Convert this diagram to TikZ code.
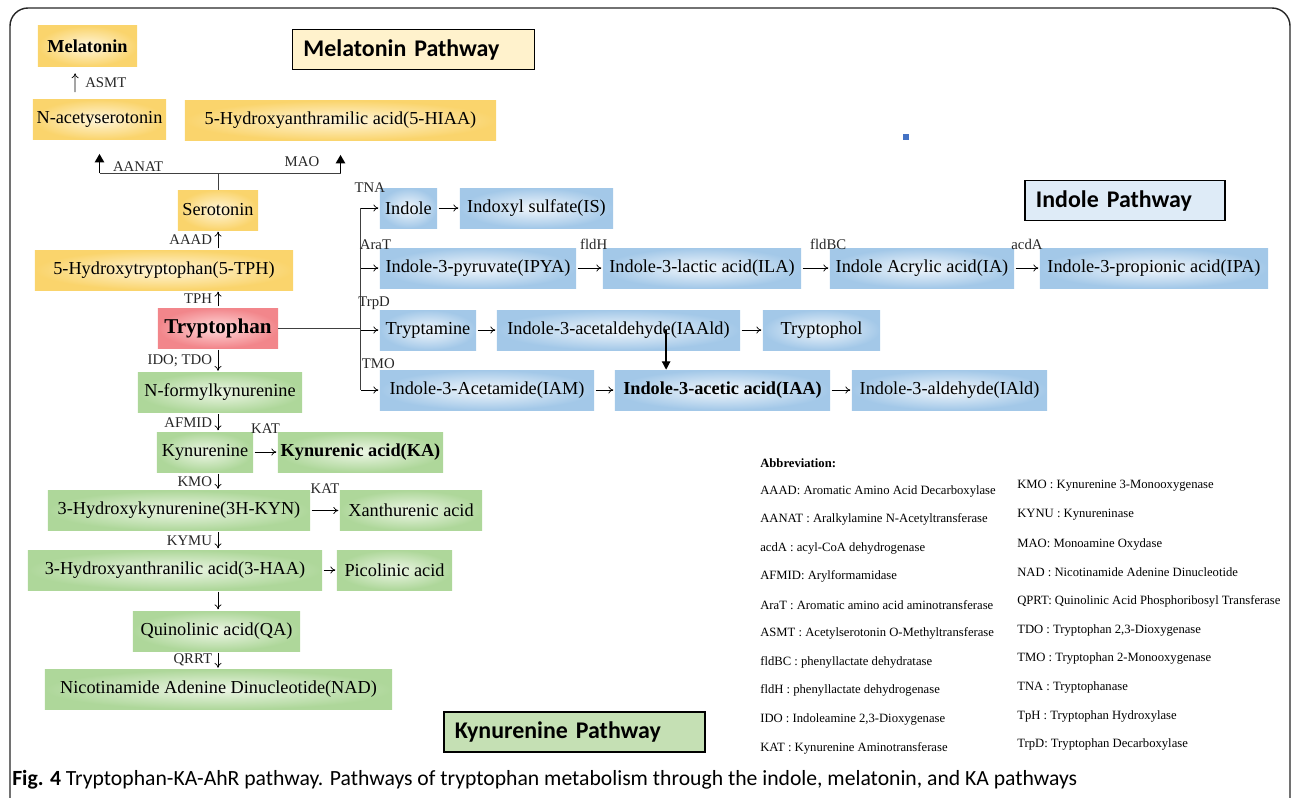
\documentclass[tikz,border=0pt]{standalone}
\usepackage{fontspec}
\setmainfont{Liberation Serif}
\newfontfamily\capfont{Carlito}
\usetikzlibrary{arrows.meta}

\definecolor{yelout}{HTML}{FAD46C}
\definecolor{yelin}{HTML}{FFF6DC}
\definecolor{bluout}{HTML}{A3C8E8}
\definecolor{bluin}{HTML}{F2F7FC}
\definecolor{grnout}{HTML}{AED79A}
\definecolor{grnin}{HTML}{EDF6E6}
\definecolor{redout}{HTML}{F2868B}
\definecolor{redin}{HTML}{FFDADB}
\definecolor{melbg}{HTML}{FFF2CC}
\definecolor{indbg}{HTML}{DEEBF7}
\definecolor{kynbg}{HTML}{C5E0B4}
\definecolor{dotblue}{HTML}{4472C4}

\tikzset{
  cpd/.style={inner sep=0pt, minimum height=1cm, font=\fontsize{13}{15}\selectfont},
  yel/.style={cpd, shade, inner color=yelin, outer color=yelout},
  blu/.style={cpd, shade, inner color=bluin, outer color=bluout},
  grn/.style={cpd, shade, inner color=grnin, outer color=grnout},
  redbox/.style={cpd, shade, inner color=redin, outer color=redout, font=\bfseries\fontsize{15}{17}\selectfont},
  enz/.style={inner sep=1pt, font=\fontsize{10.5}{12}\selectfont, text=black!85},
  rx/.style={-{To[length=3.5pt,width=5pt]}, line width=0.5pt, shorten <=1pt, shorten >=1pt},
  bigrx/.style={-{Triangle[length=6pt,width=6.5pt]}, line width=1.3pt},
  pwtitle/.style={draw, line width=0.9pt, inner xsep=0.275cm, align=left, minimum height=1cm,
    font=\capfont\bfseries\fontsize{17}{19}\selectfont},
  abbr/.style={anchor=west, inner sep=0pt, font=\fontsize{9}{10}\selectfont},
}

\begin{document}
\begin{tikzpicture}[x=0.025cm, y=-0.025cm]  % ------ Tryptophan-KA-AhR ------------------
    \useasboundingbox (0,0) rectangle (1292,797);
    \clip (0,0) rectangle (1292,797);
    \draw [line width=1pt, black!85, rounded corners=0.45cm] (10,8) rectangle (1290,840);

    \node [pwtitle, fill=melbg, text width=5.5cm] (melpw) at (413.5,49.5) {Melatonin Pathway};
    \node [pwtitle, fill=indbg, text width=4.45cm] (indpw) at (1125,200.5) {Indole Pathway};
    \node [pwtitle, fill=kynbg, text width=5.975cm] (kynpw) at (574.5,732) {Kynurenine Pathway};
    \fill [dotblue] (903,134) rectangle (909,140);

    \node [yel, minimum width=2.475cm] (mel) at (87.5,46) {\textbf{Melatonin}};
    \node [yel, minimum width=3.325cm] (nacet) at (99.5,119.5) {N-acetyserotonin};
    \node [yel, minimum width=7.775cm] (hiaa) at (340.5,120.5) {5-Hydroxyanthramilic acid(5-HIAA)};
    \node [yel, minimum width=2cm] (sero) at (218,210) {Serotonin};
    \node [yel, minimum width=6.45cm] (htp) at (164,270) {5-Hydroxytryptophan(5-TPH)};
    \node [redbox, minimum width=3cm] (trp) at (218,328) {Tryptophan};

    \node [grn, minimum width=4.1cm] (nfk) at (220,392.5) {N-formylkynurenine};
    \node [grn, minimum width=2.4cm] (kyn) at (205,452) {Kynurenine};
    \node [grn, minimum width=4.125cm] (ka) at (360.5,452) {\textbf{Kynurenic acid(KA)}};
    \node [grn, minimum width=6.55cm] (hkyn) at (179,510.5) {3-Hydroxykynurenine(3H-KYN)};
    \node [grn, minimum width=3.55cm] (xan) at (411,510.5) {Xanthurenic acid};
    \node [grn, minimum width=7.35cm] (haa) at (175,570) {3-Hydroxyanthranilic acid(3-HAA)};
    \node [grn, minimum width=2.875cm] (pic) at (394.5,570) {Picolinic acid};
    \node [grn, minimum width=4.175cm] (qa) at (216.5,631) {Quinolinic acid(QA)};
    \node [grn, minimum width=8.675cm] (nad) at (218.5,689.5) {Nicotinamide Adenine Dinucleotide(NAD)};

    \node [blu, minimum width=1.425cm] (ind) at (408.5,208) {Indole};
    \node [blu, minimum width=3.825cm] (is) at (536.5,208) {Indoxyl sulfate(IS)};
    \node [blu, minimum width=4.9cm] (ipya) at (478,268) {Indole-3-pyruvate(IPYA)};
    \node [blu, minimum width=4.95cm] (ila) at (702,268) {Indole-3-lactic acid(ILA)};
    \node [blu, minimum width=4.6cm] (ia) at (922,268) {Indole Acrylic acid(IA)};
    \node [blu, minimum width=5.7cm] (ipa) at (1154,268) {Indole-3-propionic acid(IPA)};
    \node [blu, minimum width=2.4cm] (tam) at (428,330) {Tryptamine};
    \node [blu, minimum width=6.075cm] (iaald) at (618.5,330) {Indole-3-acetaldehyde(IAAld)};
    \node [blu, minimum width=2.925cm] (tol) at (821.5,330) {Tryptophol};
    \node [blu, minimum width=5.35cm] (iam) at (487,390) {Indole-3-Acetamide(IAM)};
    \node [blu, minimum width=5.375cm] (iaa) at (722.5,390) {\textbf{Indole-3-acetic acid(IAA)}};
    \node [blu, minimum width=4.875cm] (iald) at (949.5,390) {Indole-3-aldehyde(IAld)};

    % melatonin branch
    \draw [rx, shorten <=5pt, shorten >=5pt] ([xshift=-0.61cm]nacet.north) -- node [enz, right=6pt] {ASMT} ([xshift=-0.31cm]mel.south);
    \coordinate (fork) at (218,173);
    \draw [line width=0.6pt, black!75] (sero) -- (fork);
    \draw [line width=0.6pt, black!75] (nacet.south |- fork) -- node [enz, pos=0.16, above=0pt] {AANAT} node [enz, pos=0.84, above=3pt] {MAO} (hiaa.south |- fork);
    \draw [bigrx, shorten >=10pt] (nacet.south |- fork) -- (nacet.south);
    \draw [bigrx, shorten >=10pt] (hiaa.south |- fork) -- (hiaa.south);
    \draw [rx] (htp.north -| sero) -- node [enz, left=3pt] {AAAD} (sero);
    \draw [rx] (trp) -- node [enz, left=3pt] {TPH} (trp |- htp.south);

    % kynurenine branch
    \draw [rx] (trp) -- node [enz, left=3pt] {IDO; TDO} (trp |- nfk.north);
    \draw [rx] (nfk.south -| trp) -- node [enz, left=3pt] {AFMID} (kyn.north -| trp);
    \draw [rx] (kyn) -- node [enz, above=12pt] {KAT} (ka);
    \draw [rx] (kyn.south -| trp) -- node [enz, left=3pt] {KMO} (hkyn.north -| trp);
    \draw [rx] (hkyn) -- node [enz, above=11pt] {KAT} (xan);
    \draw [rx] (hkyn.south -| trp) -- node [enz, left=3pt] {KYMU} (haa.north -| trp);
    \draw [rx] (haa) -- (pic);
    \draw [rx] (haa.south -| trp) -- (qa.north -| trp);
    \draw [rx] (qa.south -| trp) -- node [enz, left=3pt] {QRRT} (nad.north -| trp);

    % indole branch
    \coordinate (hub) at (360,328);
    \draw [line width=0.6pt, black!75] (trp) -- (hub);
    \draw [line width=0.6pt, black!75] (ind.west -| hub) -- (iam.west -| hub);
    \draw [rx] (ind.west -| hub) -- node [enz, above=10pt] {TNA} (ind);
    \draw [rx] (ind) -- (is);
    \draw [rx] (ipya.west -| hub) -- node [enz, above=12pt, xshift=4pt] {AraT} (ipya);
    \draw [rx] (ipya) -- node [enz, above=12pt, xshift=3pt] {fldH} (ila);
    \draw [rx] (ila) -- node [enz, above=12pt, xshift=9pt] {fldBC} (ia);
    \draw [rx] (ia) -- node [enz, above=12pt] {acdA} (ipa);
    \draw [rx] (tam.west -| hub) -- node [enz, above=13pt, xshift=3pt] {TrpD} (tam);
    \draw [rx] (tam) -- (iaald);
    \draw [rx] (iaald) -- (tol);
    \draw [rx] (iam.west -| hub) -- node [enz, above=14pt, xshift=6pt] {TMO} (iam);
    \draw [rx] (iam) -- (iaa);
    \draw [rx] (iaa) -- (iald);
    \coordinate (drop) at ([xshift=1.19cm]iaald.center);
    \draw [-{Triangle[length=6pt,width=6pt]}, line width=0.9pt] (drop) -- (drop |- iaa.north);

    % abbreviations
    \node [abbr, font=\bfseries\fontsize{9}{10}\selectfont] (abh) at (760,463) {Abbreviation:};
    \node [abbr] (ab1) at (760,491) {AAAD: Aromatic Amino Acid Decarboxylase};
    \node [abbr] (ab2) at (760,519) {AANAT : Aralkylamine N-Acetyltransferase};
    \node [abbr] (ab3) at (760,548) {acdA : acyl-CoA dehydrogenase};
    \node [abbr] (ab4) at (760,576) {AFMID: Arylformamidase};
    \node [abbr] (ab5) at (760,605) {AraT : Aromatic amino acid aminotransferase};
    \node [abbr] (ab6) at (760,633) {ASMT : Acetylserotonin O-Methyltransferase};
    \node [abbr] (ab7) at (760,662) {fldBC : phenyllactate dehydratase};
    \node [abbr] (ab8) at (760,690) {fldH : phenyllactate dehydrogenase};
    \node [abbr] (ab9) at (760,719) {IDO : Indoleamine 2,3-Dioxygenase};
    \node [abbr] (ab10) at (760,748) {KAT : Kynurenine Aminotransferase};
    \node [abbr] (ab11) at (1017,486) {KMO : Kynurenine 3-Monooxygenase};
    \node [abbr] (ab12) at (1017,515) {KYNU : Kynureninase};
    \node [abbr] (ab13) at (1017,544) {MAO: Monoamine Oxydase};
    \node [abbr] (ab14) at (1017,572) {NAD : Nicotinamide Adenine Dinucleotide};
    \node [abbr] (ab15) at (1017,601) {QPRT: Quinolinic Acid Phosphoribosyl Transferase};
    \node [abbr] (ab16) at (1017,630) {TDO : Tryptophan 2,3-Dioxygenase};
    \node [abbr] (ab17) at (1017,658) {TMO : Tryptophan 2-Monooxygenase};
    \node [abbr] (ab18) at (1017,687) {TNA : Tryptophanase};
    \node [abbr] (ab19) at (1017,716) {TpH : Tryptophan Hydroxylase};
    \node [abbr] (ab20) at (1017,744) {TrpD: Tryptophan Decarboxylase};

    \node [anchor=west, inner sep=0pt, font=\capfont\fontsize{15.4}{17}\selectfont] (cap) at (12,780)
      {\textbf{Fig. 4} Tryptophan-KA-AhR pathway. Pathways of tryptophan metabolism through the indole, melatonin, and KA pathways};
\end{tikzpicture}
\end{document}
